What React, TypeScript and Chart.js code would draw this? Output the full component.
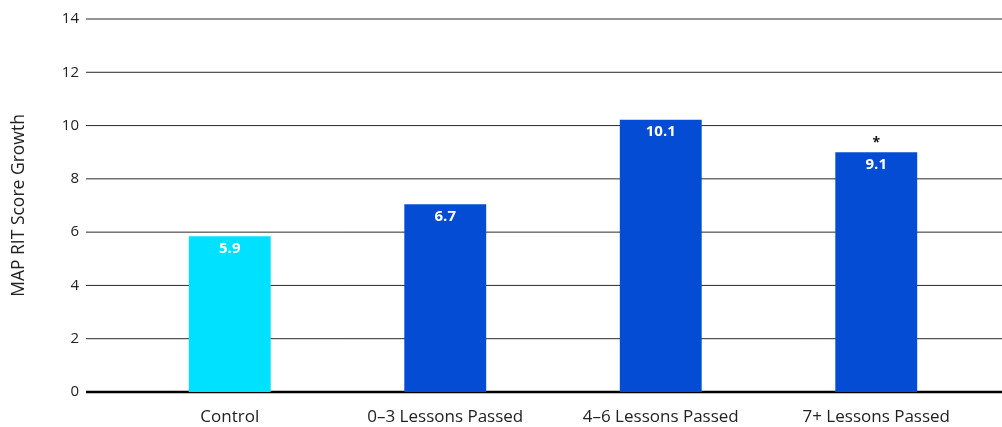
import React, { useEffect, useRef } from "react";
import { Chart, registerables } from "chart.js";

Chart.register(...registerables);

const categories = ["Control", "0–3 Lessons Passed", "4–6 Lessons Passed", "7+ Lessons Passed"];
const growthValues = [5.85, 7.05, 10.22, 9.0];
const valueLabels = ["5.9", "6.7", "10.1", "9.1"];
const significance = ["", "", "", "*"];
const barColors = ["#00E1FF", "#044CD3", "#044CD3", "#044CD3"];
const yTicks = [0, 2, 4, 6, 8, 10, 12, 14];

const FONT = "'Open Sans', 'Noto Sans', sans-serif";

const gridPlugin = {
  id: "fullGrid",
  beforeDatasetsDraw(chart: any) {
    const { ctx, chartArea } = chart;
    const y = chart.scales.y;
    ctx.save();
    yTicks.forEach((t) => {
      const py = y.getPixelForValue(t);
      ctx.beginPath();
      ctx.strokeStyle = t === 0 ? "#000000" : "#2a2a2a";
      ctx.lineWidth = t === 0 ? 2.5 : 1;
      ctx.moveTo(chartArea.left - 36, py);
      ctx.lineTo(chart.width, py);
      ctx.stroke();
    });
    ctx.restore();
  },
  afterDatasetsDraw(chart: any) {
    const { ctx } = chart;
    const meta = chart.getDatasetMeta(0);
    ctx.save();
    ctx.textAlign = "center";
    ctx.textBaseline = "middle";
    meta.data.forEach((bar: any, i: number) => {
      ctx.fillStyle = "#ffffff";
      ctx.font = `bold 15px ${FONT}`;
      ctx.fillText(valueLabels[i], bar.x, bar.y + 12.5);
      if (significance[i]) {
        ctx.fillStyle = "#111111";
        ctx.font = `bold 14px ${FONT}`;
        ctx.fillText(significance[i], bar.x, bar.y - 9);
      }
    });
    ctx.restore();
  },
};

export default function App() {
  const ref = useRef<HTMLCanvasElement>(null);
  useEffect(() => {
    document.body.style.margin = "0";
    const chart = new Chart(ref.current!, {
      type: "bar",
      data: {
        labels: categories,
        datasets: [
          {
            data: growthValues,
            backgroundColor: barColors,
            borderWidth: 0,
            barPercentage: 0.38,
            categoryPercentage: 1,
          },
        ],
      },
      options: {
        animation: false,
        responsive: false,
        maintainAspectRatio: false,
        layout: { padding: { top: 19, right: 18, left: 0, bottom: 0 } },
        plugins: { legend: { display: false }, tooltip: { enabled: false } },
        scales: {
          x: {
            grid: { display: false, drawTicks: false },
            border: { display: false },
            ticks: { color: "#222", font: { family: FONT, size: 17 }, padding: 15 },
            afterFit(scale: any) {
              scale.height = 35;
              scale.paddingTop = 0;
              scale.paddingBottom = 0;
            },
          },
          y: {
            min: 0,
            max: 14,
            afterBuildTicks(scale: any) {
              scale.ticks = yTicks.map((v) => ({ value: v }));
            },
            grid: { display: false, drawTicks: false },
            border: { display: false },
            ticks: { color: "#222", font: { family: FONT, size: 15 }, padding: 43 },
            title: {
              display: true,
              text: "MAP RIT Score Growth",
              color: "#222",
              font: { family: FONT, size: 17.5 },
              padding: { top: 9, bottom: 0 },
            },
            afterFit(scale: any) {
              scale.width = 122;
              scale.paddingTop = 0;
              scale.paddingBottom = 0;
            },
          },
        },
      },
      plugins: [gridPlugin],
    });
    return () => chart.destroy();
  }, []);
  return (
    <div style={{ width: 1002, height: 427 }}>
      <canvas ref={ref} width={1002} height={427} style={{ display: "block" }} />
    </div>
  );
}
